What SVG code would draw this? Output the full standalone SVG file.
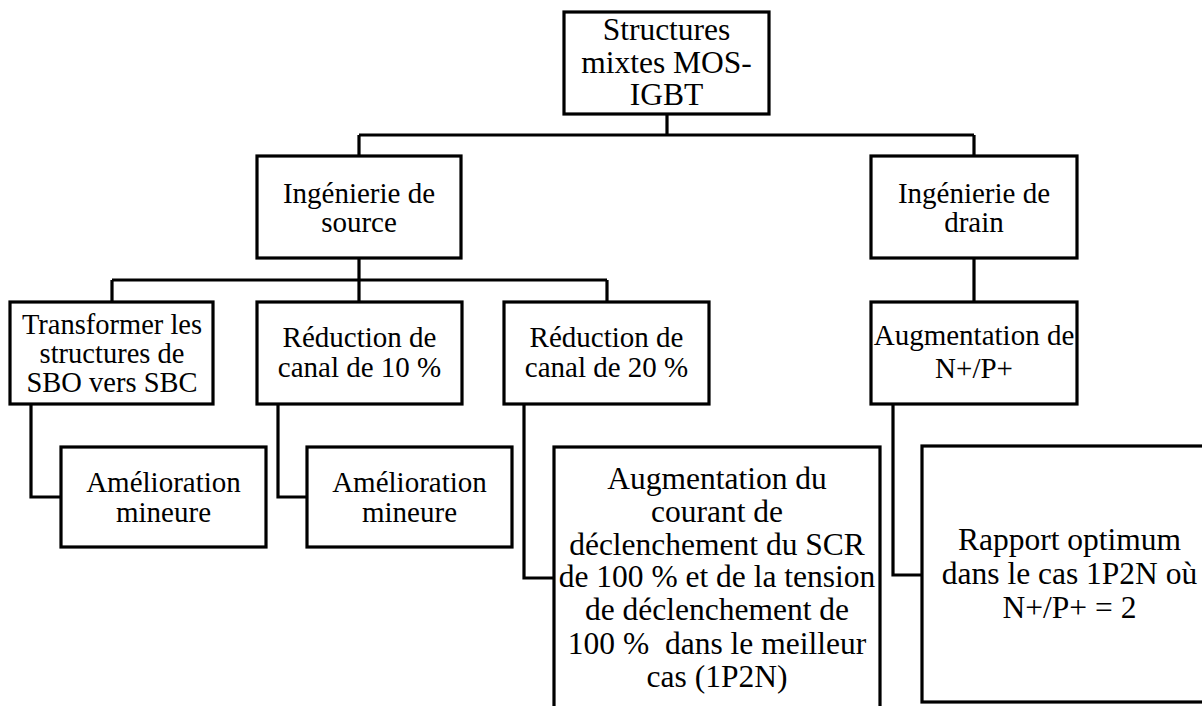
<svg xmlns="http://www.w3.org/2000/svg" width="1202" height="706" viewBox="0 0 1202 706">
<style>
  .box{fill:#fff;stroke:#000;stroke-width:3.2}
  .t{font-family:"Liberation Serif","Times New Roman",serif;font-size:29px;fill:#000;text-anchor:middle}
  .big{font-size:31.5px}
  .sm{font-size:28.5px}
  .c{fill:none;stroke:#000;stroke-width:3.2}
</style>
<rect width="1202" height="706" fill="#fff"/>
<g id="connectors">
  <path class="c" d="M667 114V135M359 135H974M359 135V156M974 135V156"/>
  <path class="c" d="M359 258V280M112 280H607M112 280V302M359 280V302M607 280V302M974 258V302"/>
  <path class="c" d="M31 404V497H61M278 404V497H307M524 404V578H554M893 404V575H922"/>
</g>
<g id="n-root">
  <rect class="box" x="564" y="12" width="205" height="102"/>
  <text class="t big" x="666.5" y="40">Structures</text>
  <text class="t big" x="666.5" y="73">mixtes MOS-</text>
  <text class="t big" x="666.5" y="105">IGBT</text>
</g>
<g id="n-source">
  <rect class="box" x="257" y="156" width="204" height="102"/>
  <text class="t" x="359" y="202.5">Ingénierie de</text>
  <text class="t" x="359" y="231.5">source</text>
</g>
<g id="n-drain">
  <rect class="box" x="871" y="156" width="206" height="102"/>
  <text class="t" x="974" y="202.5">Ingénierie de</text>
  <text class="t" x="974" y="231.5">drain</text>
</g>
<g id="n-transformer">
  <rect class="box" x="10" y="302" width="203" height="102"/>
  <text class="t sm" x="112" y="333.5">Transformer les</text>
  <text class="t sm" x="112" y="362.5">structures de</text>
  <text class="t sm" x="112" y="391.5">SBO vers SBC</text>
</g>
<g id="n-red10">
  <rect class="box" x="257" y="302" width="205" height="102"/>
  <text class="t" x="359.5" y="347">Réduction de</text>
  <text class="t" x="359.5" y="377">canal de 10 %</text>
</g>
<g id="n-red20">
  <rect class="box" x="504" y="302" width="205" height="102"/>
  <text class="t" x="606.5" y="347">Réduction de</text>
  <text class="t" x="606.5" y="377">canal de 20 %</text>
</g>
<g id="n-augNP">
  <rect class="box" x="871" y="302" width="206" height="102"/>
  <text class="t" x="974" y="345">Augmentation de</text>
  <text class="t" x="974" y="377.5">N+/P+</text>
</g>
<g id="n-amel1">
  <rect class="box" x="61" y="447" width="205" height="100"/>
  <text class="t" x="163.5" y="491.5">Amélioration</text>
  <text class="t" x="163.5" y="521.5">mineure</text>
</g>
<g id="n-amel2">
  <rect class="box" x="307" y="447" width="205" height="100"/>
  <text class="t" x="409.5" y="491.5">Amélioration</text>
  <text class="t" x="409.5" y="521.5">mineure</text>
</g>
<g id="n-augSCR">
  <rect class="box" x="554" y="447" width="326" height="270"/>
  <text class="t big" x="717" y="488.5">Augmentation du</text>
  <text class="t big" x="717" y="521.5">courant de</text>
  <text class="t big" x="717" y="555">déclenchement du SCR</text>
  <text class="t big" x="717" y="587">de 100 % et de la tension</text>
  <text class="t big" x="717" y="620">de déclenchement de</text>
  <text class="t big" x="717" y="653.5" style="white-space:pre">100 %  dans le meilleur</text>
  <text class="t big" x="717" y="687">cas (1P2N)</text>
</g>
<g id="n-rapport">
  <rect class="box" x="922" y="446" width="300" height="256"/>
  <text class="t big" x="1069.5" y="550">Rapport optimum</text>
  <text class="t big" x="1069.5" y="584">dans le cas 1P2N où</text>
  <text class="t big" x="1069.5" y="617.5">N+/P+ = 2</text>
</g>
</svg>
